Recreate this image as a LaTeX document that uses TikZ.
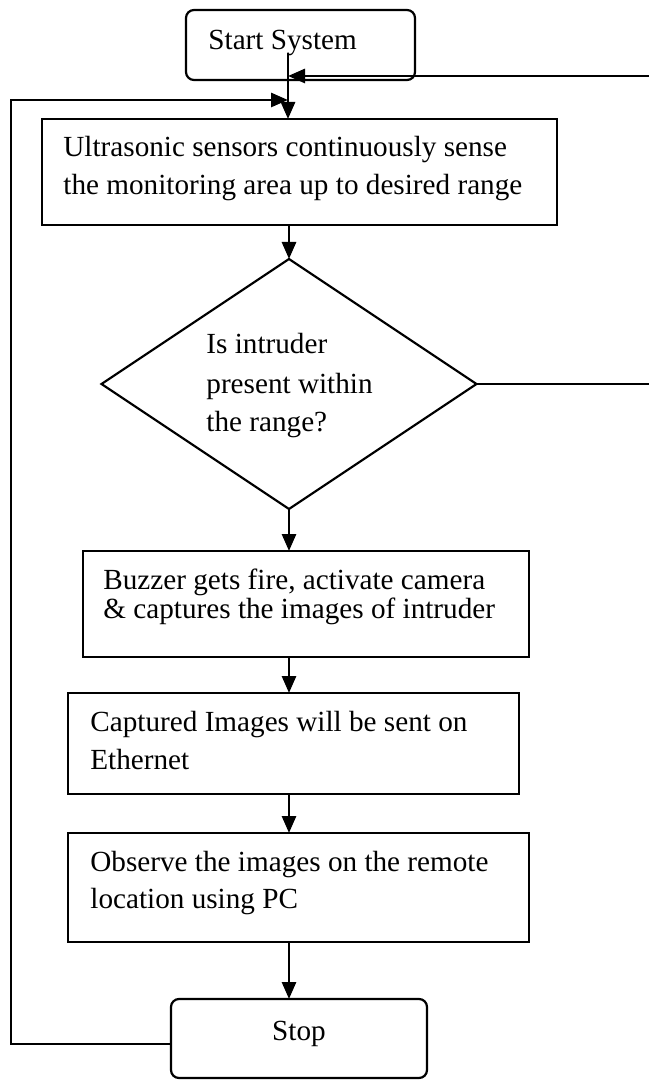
\documentclass[tikz,border=0pt]{standalone}
\usepackage{fontspec}
\setmainfont{Liberation Serif}
\usetikzlibrary{arrows.meta,shapes.geometric}
\begin{document}
\begin{tikzpicture}[x=0.5pt,y=-0.5pt,
  box/.style={draw,line width=1.1pt,inner sep=0pt,outer sep=0pt},
  term/.style={box,rounded corners=4pt},
  dec/.style={draw,line width=1.1pt,diamond,inner sep=0pt,outer sep=0pt},
  txt/.style={inner sep=0pt,anchor=base west,font=\fontsize{14.6}{18}\selectfont},
  conn/.style={line width=1.4pt},
  arr/.style={conn,-{Triangle[length=8.5pt,width=7pt]}}]
\useasboundingbox (0,0) rectangle (648,1080);
% shapes
\node[term,minimum width=114.5pt,minimum height=35pt] (start) at (300.5,45) {};
\node[box,minimum width=257.5pt,minimum height=53pt] (u) at (299.5,172) {};
\node[dec,minimum width=187.5pt,minimum height=125pt] (d) at (289,384) {};
\node[box,minimum width=223pt,minimum height=53pt] (b) at (306,604) {};
\node[box,minimum width=225.5pt,minimum height=50.5pt] (c) at (293.5,743.5) {};
\node[box,minimum width=230.5pt,minimum height=54.5pt] (o) at (298.5,887.5) {};
\node[term,minimum width=128pt,minimum height=39.5pt] (stop) at (299,1038.5) {};
% texts
\node[txt] (t0) at (208,50) {Start System};
\node[txt] (t1) at (63,157) {Ultrasonic sensors continuously sense};
\node[txt] (t2) at (63,195) {the monitoring area up to desired range};
\node[txt] (t3) at (206,353) {Is intruder};
\node[txt] (t4) at (206,393) {present within};
\node[txt] (t5) at (206,431) {the range?};
\node[txt] (t6) at (103,589) {Buzzer gets fire, activate camera};
\node[txt] (t7) at (103,618) {\&\ captures the images of intruder};
\node[txt] (t8) at (90,731) {Captured Images will be sent on};
\node[txt] (t9) at (90,769) {Ethernet};
\node[txt] (t10) at (90,871) {Observe the images on the remote};
\node[txt] (t11) at (90,908) {location using PC};
\node[txt,anchor=base] (t12) at (299,1040) {Stop};
% coordinates
\coordinate (s0) at (288,53);
\coordinate (j1) at (288,76);
\coordinate (j2) at (288,100);
\coordinate (r1) at (652,384);
\coordinate (r2) at (652,76);
\coordinate (l1) at (11,1044);
\coordinate (l2) at (11,100);
% connectors
\draw[arr] (s0) -- (u.north -| s0);
\draw[arr] (u.south -| d.north) -- (d.north);
\draw[arr] (d.south) -- (b.north -| d.south);
\draw[arr] (b.south -| d.south) -- (c.north -| d.south);
\draw[arr] (c.south -| d.south) -- (o.north -| d.south);
\draw[arr] (o.south -| d.south) -- (stop.north -| d.south);
\draw[arr] (d.east) -- (r1) -- (r2) -- (j1);
\draw[arr] (stop.west |- l1) -- (l1) -- (l2) -- (j2);
\end{tikzpicture}
\end{document}
